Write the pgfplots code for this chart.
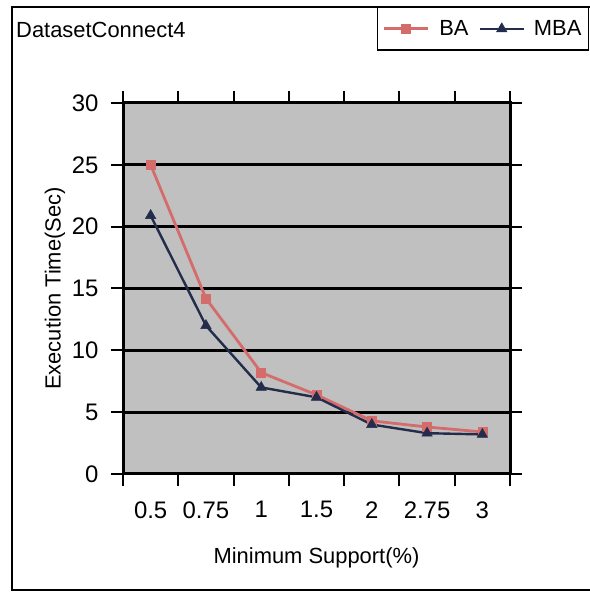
\documentclass[border=0pt]{standalone}
\usepackage{pgfplots}
\pgfplotsset{compat=1.18}
\usepackage{fontspec}
\setmainfont{Liberation Sans}
\definecolor{bared}{RGB}{212,108,108}
\definecolor{mbablue}{RGB}{35,45,75}
\definecolor{bggray}{RGB}{192,192,192}
\begin{document}
\begin{tikzpicture}[x=1bp,y=1bp]
\path[use as bounding box] (0,0) rectangle (590,593);
\draw[line width=1.3bp] (590,3) -- (12,3) -- (12,586) -- (590,586);
\node[anchor=west, inner sep=0pt, font=\fontsize{22}{24}\selectfont] at (16,563) {DatasetConnect4};
\begin{axis}[
  at={(123bp,119bp)}, anchor=south west,
  scale only axis, width=387bp, height=371bp,
  xmin=0, xmax=7, ymin=0, ymax=30,
  axis background/.style={fill=bggray},
  xtick={0,...,7}, xticklabels={},
  extra x ticks={0.5,1.5,...,6.5},
  extra x tick labels={0.5,0.75,1,1.5,2,2.75,3},
  extra x tick style={major tick length=0pt, grid=none},
  ytick={0,5,...,30},
  tick align=outside,
  major tick length=12bp,
  ymajorgrids,
  grid style={black, line width=2.8bp},
  axis line style={black, line width=3bp},
  tick style={black, line width=2bp},
  /pgf/number format/assume math mode=true,
  tick label style={font=\fontsize{24}{26}\selectfont},
  xticklabel style={yshift=-24bp},
  yticklabel style={xshift=-9bp},
  xlabel={Minimum Support(\%)},
  ylabel={Execution Time(Sec)},
  label style={font=\fontsize{22}{24}\selectfont},
  xlabel style={at={(axis description cs:0.5,-0.226)}, anchor=center},
  ylabel style={at={(axis description cs:-0.176,0.5)}, anchor=center, rotate=0},
  clip=false,
  legend style={at={(axis description cs:0.656,1.259)}, anchor=north west,
    draw=black, line width=1.3bp, fill=white,
    font=\fontsize{22}{24}\selectfont,
    legend columns=2, inner xsep=5bp, inner ysep=11bp},
  legend image code/.code={
    \draw[mark repeat=2, mark phase=2] plot coordinates {(0bp,0bp) (22bp,0bp) (44bp,0bp)};
  },
]
\addplot[color=bared, line width=2.8bp, mark=square*, mark size=4.5bp, mark options={solid, line width=0.5bp}]
  coordinates {(0.5,25.0) (1.5,14.2) (2.5,8.2) (3.5,6.4) (4.5,4.3) (5.5,3.8) (6.5,3.4)};
\addlegendentry{\hspace{8bp}BA\hspace*{8bp}\mbox{}}
\addplot[color=mbablue, line width=2.4bp, mark=triangle*, mark size=6bp, mark options={solid, line width=0.5bp}]
  coordinates {(0.5,20.9) (1.5,12.0) (2.5,7.0) (3.5,6.2) (4.5,4.0) (5.5,3.3) (6.5,3.2)};
\addlegendentry{\hspace{7bp}MBA}
\end{axis}
\end{tikzpicture}
\end{document}
